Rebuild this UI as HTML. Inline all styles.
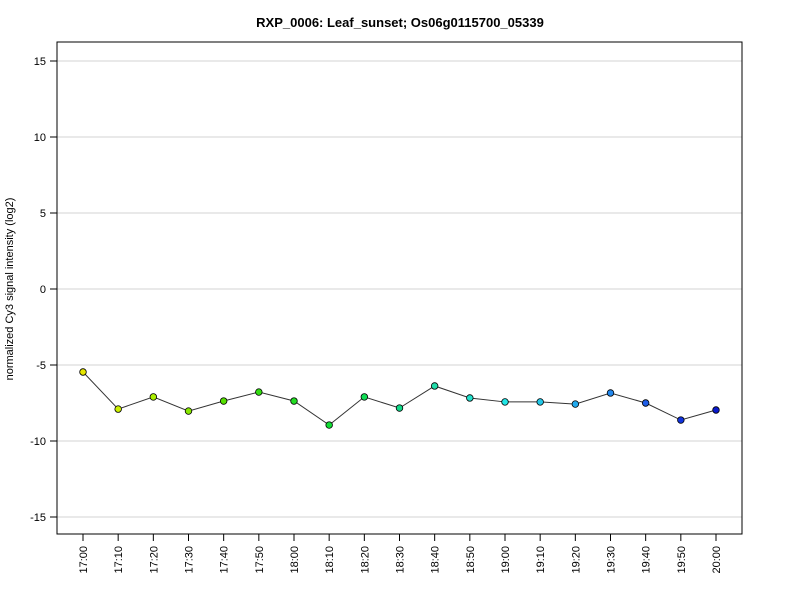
<!DOCTYPE html>
<html><head><meta charset="utf-8"><style>
html,body{margin:0;padding:0;background:#fff;}
svg text{font-family:"Liberation Sans",Arial,sans-serif;}
</style></head><body>
<svg id="chart" width="800" height="600" xmlns="http://www.w3.org/2000/svg">
<rect width="800" height="600" fill="#fff"/>
<text x="400" y="27" text-anchor="middle" font-size="13" font-weight="bold">RXP_0006: Leaf_sunset; Os06g0115700_05339</text>
<text transform="translate(13,289) rotate(-90)" text-anchor="middle" font-size="11">normalized Cy3 signal intensity (log2)</text>
<g id="grid"></g><g id="yaxis"></g><g id="xaxis"></g><g id="series"></g>
<rect x="57" y="42" width="685" height="492" fill="none" stroke="#000" stroke-width="1"/>
</svg>
<script>
const categories=["17:00","17:10","17:20","17:30","17:40","17:50","18:00","18:10","18:20","18:30","18:40","18:50","19:00","19:10","19:20","19:30","19:40","19:50","20:00"];
const values=[-5.46,-7.9,-7.1,-8.03,-7.37,-6.78,-7.37,-8.95,-7.1,-7.83,-6.38,-7.17,-7.43,-7.43,-7.57,-6.84,-7.5,-8.62,-7.96];
const colors=["#e6e600","#ccf000","#aaee00","#88e800","#55e000","#33dd11","#22dd22","#11dd33","#11dd55","#11d988","#22ddaa","#22e0cc","#22e6e6","#22c8e8","#22aaee","#2288ee","#1f5ee8","#1133dd","#0a1acc"];
const yTicks=[-15,-10,-5,0,5,10,15];
const NS="http://www.w3.org/2000/svg";
const y=v=>289-v*15.2;
const x=i=>83+i*(716-83)/(categories.length-1);
function mk(tag,attrs,parent){const e=document.createElementNS(NS,tag);for(const k in attrs)e.setAttribute(k,attrs[k]);document.getElementById(parent).appendChild(e);return e;}
yTicks.forEach(t=>{
 const g=mk('line',{x1:57,x2:742,y1:y(t),y2:y(t),stroke:'#d3d3d3','stroke-width':1},'grid');
 
 
 const tk=mk('line',{x1:50,x2:57,y1:y(t),y2:y(t),stroke:'#000'},'yaxis');
 
 
 const tx=mk('text',{x:46,y:y(t)+4,'text-anchor':'end','font-size':11},'yaxis');
 tx.textContent=t;
 
 
});
categories.forEach((c,i)=>{
 const tk=mk('line',{x1:x(i),x2:x(i),y1:534,y2:541,stroke:'#000'},'xaxis');
 
 
 const tx=mk('text',{transform:`translate(${x(i)+4},546) rotate(-90)`,'text-anchor':'end','font-size':11},'xaxis');
 tx.textContent=c;
 
 
});
const pl=mk('polyline',{points:values.map((v,i)=>x(i)+','+y(v)).join(' '),fill:'none',stroke:'#333','stroke-width':1},'series');


values.forEach((v,i)=>{
 const c=mk('circle',{cx:x(i),cy:y(v),r:3.3,fill:colors[i],stroke:'#000','stroke-width':0.8},'series');
 
 
});
</script>
</body></html>
